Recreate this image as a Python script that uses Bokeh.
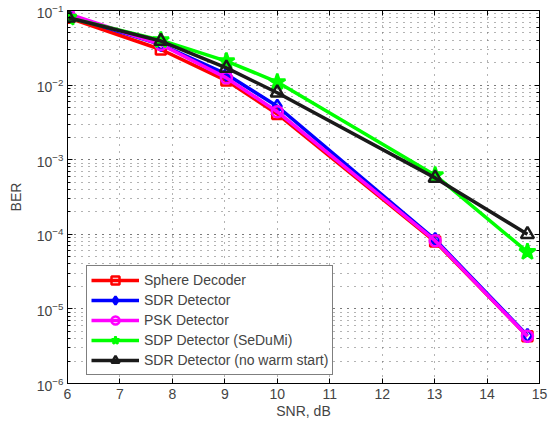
import numpy as np
from bokeh.plotting import figure
from bokeh.models import (Range1d, LinearAxis, LogAxis, FixedTicker, LogTicker,
                          Legend, LegendItem, CustomLabelingPolicy)
from bokeh.embed import file_html
from bokeh.resources import INLINE

# ---- data ----
snr = [6.02, 7.78, 9.03, 10.0, 13.01, 14.77]
sphere = [0.080, 0.030, 0.0115, 0.0041, 8.0e-5, 4.3e-6]
sdr = [0.085, 0.035, 0.0140, 0.0052, 8.5e-5, 4.4e-6]
psk = [0.090, 0.035, 0.0125, 0.0044, 8.2e-5, 4.3e-6]
sdp = [0.080, 0.040, 0.0210, 0.0110, 6.2e-4, 5.8e-5]
nowarm = [0.080, 0.039, 0.0170, 0.0079, 5.7e-4, 1.0e-4]

labels = ["Sphere Decoder", "SDR Detector", "PSK Detector",
          "SDP Detector (SeDuMi)", "SDR Detector (no warm start)"]
series = [sphere, sdr, psk, sdp, nowarm]
colors = ["#FF0000", "#0000FF", "#FF00FF", "#00FF00", "#1a1a1a"]
markers = ["square", "diamond", "circle", "star", "triangle"]
msizes = [10, 13, 11, 17, 13]
x_ticks = [6, 7, 8, 9, 10, 11, 12, 13, 14, 15]

FONT = "Liberation Sans"

p = figure(width=554, height=424, y_axis_type="log",
           x_range=Range1d(6, 15), y_range=Range1d(1e-6, 1e-1),
           output_backend="svg", toolbar_location=None,
           min_border_left=67, min_border_right=15, min_border_top=10,
           min_border_bottom=41)
p.background_fill_color = "white"
p.border_fill_color = "white"
p.outline_line_color = "black"
p.outline_line_width = 1
p.outline_line_alpha = 1

p.xaxis.ticker = FixedTicker(ticks=x_ticks, minor_ticks=[])
p.xaxis.axis_label = "SNR, dB"
p.yaxis.axis_label = "BER"
for ax in [p.xaxis[0], p.yaxis[0]]:
    ax.axis_label_text_font = FONT
    ax.axis_label_text_font_style = "normal"
    ax.axis_label_text_font_size = "14px"
    ax.major_label_text_font = FONT
    ax.major_label_text_font_size = "14px"
    ax.major_tick_in = 5
    ax.major_tick_out = 0
    ax.minor_tick_in = 3
    ax.minor_tick_out = 0
    ax.axis_line_color = "black"
    ax.major_tick_line_color = "black"
    ax.minor_tick_line_color = "black"
p.xaxis.major_label_standoff = 5
p.xaxis.axis_label_standoff = 1
p.yaxis.major_label_standoff = 4
p.yaxis.axis_label_standoff = 10

# top and right box axes with inward ticks, labels hidden
hide = "return new Set()"
top = LinearAxis(ticker=FixedTicker(ticks=x_ticks, minor_ticks=[]),
                 major_label_policy=CustomLabelingPolicy(code=hide),
                 major_label_text_font_size="2px", major_label_standoff=0,
                 major_tick_in=5, major_tick_out=0)
right = LogAxis(ticker=LogTicker(),
                major_label_policy=CustomLabelingPolicy(code=hide),
                major_label_text_font_size="2px",
                major_label_standoff=0, major_tick_in=5, major_tick_out=0,
                minor_tick_in=3, minor_tick_out=0)
p.add_layout(top, "above")
p.add_layout(right, "right")

# grids (MATLAB dotted)
for g in [p.xgrid[0], p.ygrid[0]]:
    g.grid_line_color = "#666666"
    g.grid_line_dash = "1 6"
    g.grid_line_width = 1
p.ygrid.minor_grid_line_color = "#666666"
p.ygrid.minor_grid_line_dash = "1 6"

items = []
for lab, ys, c, m, s in zip(labels, series, colors, markers, msizes):
    r1 = p.line(snr, ys, line_color=c, line_width=3.5)
    fill = c if m == "star" else None
    r2 = p.scatter(snr, ys, marker=m, size=s, line_color=c, line_width=2.5,
                   fill_color=fill)
    items.append(LegendItem(label=lab, renderers=[r1, r2]))

legend = Legend(items=items, location=(19, 8))
legend.label_text_font = FONT
legend.label_text_font_size = "14px"
legend.glyph_width = 48
legend.glyph_height = 20
legend.label_height = 20
legend.spacing = 0
legend.padding = 4
legend.margin = 0
legend.label_standoff = 5
legend.border_line_color = "black"
legend.border_line_width = 1
legend.background_fill_alpha = 1
p.add_layout(legend, "center")

open("out.html", "w").write(file_html(p, INLINE))
